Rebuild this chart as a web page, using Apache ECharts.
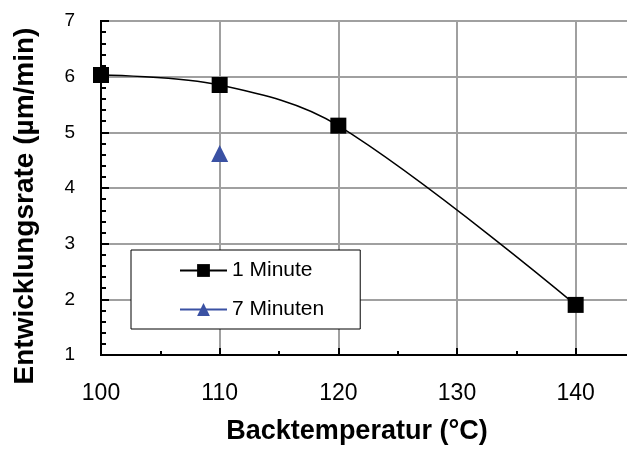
<!DOCTYPE html>
<html><head><meta charset="utf-8">
<script src="https://cdn.jsdelivr.net/npm/echarts@6/dist/echarts.min.js"></script>
<style>html,body{margin:0;padding:0;overflow:hidden;background:#fff;width:627px;height:450px}#c{width:640px;height:450px}</style>
</head><body><div id="c"></div>
<script>
const temps1 = [100, 110, 120, 140];
const rate1 = [6.03, 5.85, 5.12, 1.9];
const temps7 = [110];
const rate7 = [4.62];
const seriesNames = ['1 Minute', '7 Minuten'];
const xTitle = 'Backtemperatur (°C)';
const yTitle = 'Entwicklungsrate (µm/min)';

const el = document.getElementById('c');
const chart = echarts.init(el, null, {renderer: 'canvas'});
const font = 'Liberation Sans, Arial, sans-serif';
chart.setOption({
  animation: false,
  grid: {left: 101, right: 5, top: 21, bottom: 89, show: true, borderColor: '#000', borderWidth: 2, backgroundColor: 'transparent'},
  xAxis: {
    type: 'value', min: 100, max: 145, interval: 10,
    name: xTitle, nameLocation: 'middle', nameGap: 63,
    nameTextStyle: {fontFamily: font, fontWeight: 'bold', fontSize: 27, color: '#000', padding: [0, 22, 0, 0]},
    axisLine: {lineStyle: {color: '#000', width: 2}},
    axisTick: {inside: true, length: 7, lineStyle: {color: '#000', width: 2}},
    minorTick: {show: true, splitNumber: 2, length: 4, lineStyle: {color: '#000', width: 2}},
    axisLabel: {fontFamily: font, fontSize: 23, color: '#000', margin: 27, showMaxLabel: false,
      formatter: v => (v % 10 === 0 ? String(v) : '')},
    splitLine: {show: true, lineStyle: {color: '#a0a0a0', width: 2}}
  },
  yAxis: {
    type: 'value', min: 1, max: 7, interval: 1,
    name: yTitle, nameLocation: 'middle', nameGap: 62, nameRotate: 90,
    nameTextStyle: {fontFamily: font, fontWeight: 'bold', fontSize: 28, color: '#000', padding: [0, 36, 0, 0]},
    axisLine: {show: true, lineStyle: {color: '#000', width: 2}},
    axisTick: {inside: true, length: 8, lineStyle: {color: '#000', width: 2}},
    minorTick: {show: true, splitNumber: 5, length: 5, lineStyle: {color: '#000', width: 2}},
    axisLabel: {fontFamily: font, fontSize: 19, color: '#000', margin: 26},
    splitLine: {show: true, lineStyle: {color: '#a0a0a0', width: 2}}
  },
  legend: {
    left: 131, top: 250, orient: 'vertical',
    padding: [10, 36, 9, 48], itemGap: 18, itemWidth: 47, itemHeight: 16,
    borderColor: '#000', borderWidth: 1, backgroundColor: '#fff',
    textStyle: {fontFamily: font, fontSize: 21, color: '#000'},
    data: seriesNames
  },
  series: [
    {name: seriesNames[0], type: 'line', smooth: 0.35, data: temps1.map((t, i) => [t, rate1[i]]),
     symbol: 'rect', symbolSize: 16, itemStyle: {color: '#000'}, lineStyle: {color: '#000', width: 1.5}, z: 3},
    {name: seriesNames[1], type: 'line', data: temps7.map((t, i) => [t, rate7[i]]),
     symbol: 'triangle', symbolSize: 17, itemStyle: {color: '#3a51a3'}, lineStyle: {color: '#3a51a3', width: 1.5}, z: 3}
  ]
});
</script></body></html>
